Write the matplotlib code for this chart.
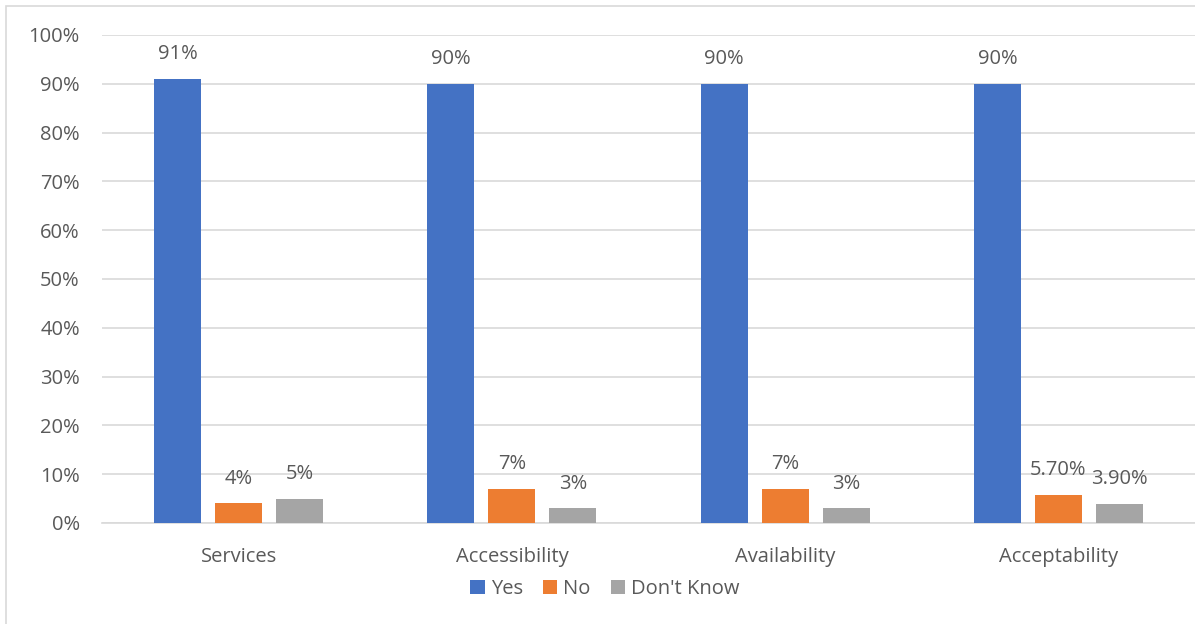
import matplotlib.pyplot as plt
import numpy as np
from matplotlib.patches import Rectangle

categories = ['Services', 'Accessibility', 'Availability', 'Acceptability']
yes = [91, 90, 90, 90]
no = [4, 7, 7, 5.7]
dont_know = [5, 3, 3, 3.9]
yes_labels = ['91%', '90%', '90%', '90%']
no_labels = ['4%', '7%', '7%', '5.70%']
dk_labels = ['5%', '3%', '3%', '3.90%']

plt.rcParams['font.family'] = ['Open Sans', 'DejaVu Sans']
txt = '#595959'
fs = 14.5

fig = plt.figure(figsize=(11.95, 6.24), dpi=100)
ax = fig.add_axes([0.0854, 0.162, 0.9146, 0.782])

# borde del grafico
fig.patches.append(Rectangle((6/1195, -0.1), 1.2, 1.1 - 6/624, transform=fig.transFigure,
                             fill=False, edgecolor='#D9D9D9', linewidth=1.2))

x = np.arange(len(categories))
w = 0.172
paso = 0.223
series = [(yes, yes_labels, '#4472C4', 'Yes'),
          (no, no_labels, '#ED7D31', 'No'),
          (dont_know, dk_labels, '#A5A5A5', "Don't Know")]

for k, (vals, labs, col, nombre) in enumerate(series):
    pos = x + (k - 1) * paso
    ax.bar(pos, vals, w, color=col, label=nombre, zorder=3)
    for p, v, l in zip(pos, vals, labs):
        ax.text(p, v + 3.0, l, ha='center', va='bottom', fontsize=fs, color=txt)

ax.set_xlim(-0.5, 3.5)
ax.set_ylim(0, 100)
ax.set_yticks(range(0, 101, 10))
ax.set_yticklabels([f'{i}%' for i in range(0, 101, 10)])
ax.set_xticks(x)
ax.set_xticklabels(categories)
ax.tick_params(axis='both', length=0, labelsize=fs, colors=txt)
ax.tick_params(axis='y', pad=16)
ax.tick_params(axis='x', pad=17)
ax.grid(axis='y', color='#D9D9D9', linewidth=1.2, zorder=0)
for s in ['top', 'right', 'left']:
    ax.spines[s].set_visible(False)
ax.spines['bottom'].set_color('#D9D9D9')
ax.spines['bottom'].set_linewidth(1.2)

ax.legend(loc='upper center', bbox_to_anchor=(0.46, -0.078), ncol=3, frameon=False,
          fontsize=fs, labelcolor=txt, handlelength=0.7, handleheight=0.7,
          handletextpad=0.3, columnspacing=1.0)

fig.savefig('out.png', dpi=100)
